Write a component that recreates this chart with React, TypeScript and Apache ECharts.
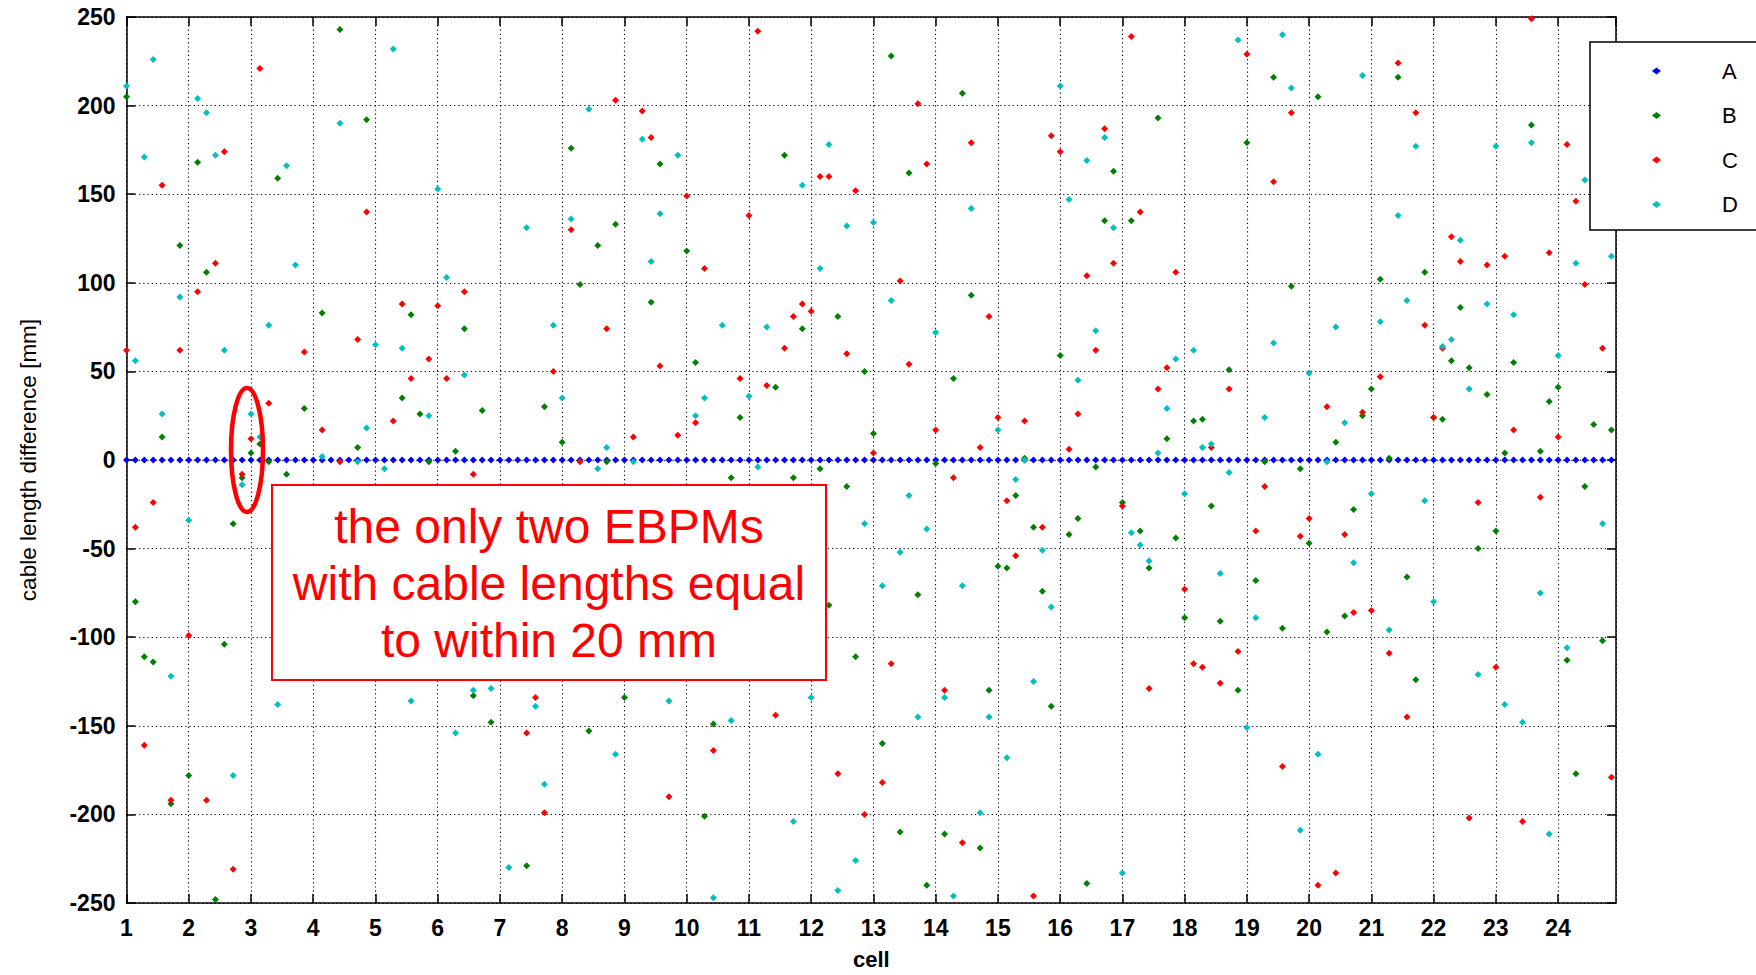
import React, { useEffect, useRef } from "react";
import * as echarts from "echarts";

// Each BPM sits at cell = 1 + index / 7 (7 BPMs per cell, 24 cells)
const bpmsPerCell = 7;
const cellTicks = [1, 24];
const yTicks = [-250, 250, 50];

// Series A: reference (all zero), one value per BPM index 0..167
const seriesA = [
  0,0,0,0,0,0,0, 0,0,0,0,0,0,0, 0,0,0,0,0,0,0, 0,0,0,0,0,0,0,
  0,0,0,0,0,0,0, 0,0,0,0,0,0,0, 0,0,0,0,0,0,0, 0,0,0,0,0,0,0,
  0,0,0,0,0,0,0, 0,0,0,0,0,0,0, 0,0,0,0,0,0,0, 0,0,0,0,0,0,0,
  0,0,0,0,0,0,0, 0,0,0,0,0,0,0, 0,0,0,0,0,0,0, 0,0,0,0,0,0,0,
  0,0,0,0,0,0,0, 0,0,0,0,0,0,0, 0,0,0,0,0,0,0, 0,0,0,0,0,0,0,
  0,0,0,0,0,0,0, 0,0,0,0,0,0,0, 0,0,0,0,0,0,0, 0,0,0,0,0,0,0,
];

// [BPM index, cable length difference in mm]
const seriesB: [number, number][] = [
  [0,205],[1,-80],[2,-111],[3,-114],[4,13],[5,-194],[6,121],[7,-178],[8,168],[9,106],[10,-248],[11,-104],[12,-36],[13,-10],[14,4],[15,9],[16,-1],[17,159],[18,-8],[20,29],[22,83],[24,243],[26,7],[27,192],[31,35],[32,82],[33,26],[34,-1],[37,5],[38,74],[39,-133],[40,28],[41,-148],[45,-229],[47,30],[49,10],[50,176],[51,99],[52,-153],[53,121],[54,-1],[55,133],[56,-134],[59,89],[60,167],[63,118],[64,55],[65,-201],[66,-149],[68,-10],[69,24],[73,41],[74,172],[75,-10],[76,74],[78,-5],[79,-82],[80,81],[81,-15],[82,-111],[83,50],[84,15],[85,-160],[86,228],[87,-210],[88,162],[89,-76],[90,-240],[91,-2],[92,-211],[93,46],[94,207],[95,93],[96,-219],[97,-130],[98,-60],[99,-61],[100,-20],[101,1],[102,-38],[103,-74],[104,-139],[105,59],[106,-42],[107,-33],[108,-239],[109,-4],[110,135],[111,163],[112,-24],[113,135],[114,-40],[115,-61],[116,193],[117,12],[118,-44],[119,-89],[120,22],[121,23],[122,-26],[123,-91],[124,51],[125,-130],[126,179],[127,-68],[128,-1],[129,216],[130,-95],[131,98],[132,-5],[133,-47],[134,205],[135,-97],[136,10],[137,-88],[138,-28],[139,25],[140,40],[141,102],[142,1],[143,216],[144,-66],[145,-124],[146,106],[147,24],[148,23],[149,56],[150,86],[151,52],[152,-50],[153,37],[154,-40],[155,4],[156,55],[158,189],[159,5],[160,33],[161,41],[162,-113],[163,-177],[164,-15],[165,20],[166,-102],[167,17],
];

const seriesC: [number, number][] = [
  [0,62],[1,-38],[2,-161],[3,-24],[4,155],[5,-192],[6,62],[7,-99],[8,95],[9,-192],[10,111],[11,174],[12,-231],[13,-8],[14,12],[15,221],[16,32],[20,61],[22,17],[24,-1],[26,68],[27,140],[30,22],[31,88],[32,46],[34,57],[35,87],[36,46],[38,95],[39,-8],[45,-154],[46,-134],[47,-199],[48,50],[50,130],[51,-1],[54,74],[55,203],[57,13],[58,197],[59,182],[60,53],[61,-190],[62,14],[63,149],[64,21],[65,108],[66,-164],[69,46],[70,138],[71,242],[72,42],[73,-144],[74,63],[75,81],[76,88],[77,84],[78,160],[79,160],[80,-177],[81,60],[82,152],[83,-200],[84,4],[85,-182],[86,-115],[87,101],[88,54],[89,201],[90,167],[91,17],[92,-130],[93,-10],[94,-216],[95,179],[96,7],[97,81],[98,24],[99,-23],[100,-54],[101,22],[102,-246],[103,-38],[104,183],[105,174],[106,6],[107,26],[108,104],[109,62],[110,187],[111,111],[112,-26],[113,239],[114,140],[115,-129],[116,40],[117,52],[118,106],[119,-73],[120,-115],[121,-117],[122,7],[123,-126],[124,40],[125,-108],[126,229],[127,-40],[128,-15],[129,157],[130,-173],[131,196],[132,-43],[133,-33],[134,-240],[135,30],[136,-233],[137,-42],[138,-86],[139,27],[140,-85],[141,47],[142,-109],[143,224],[144,-145],[145,196],[146,76],[147,24],[148,63],[149,126],[150,112],[151,-202],[152,-24],[153,110],[154,-117],[155,115],[156,17],[157,-204],[158,249],[159,-21],[160,117],[161,13],[162,178],[163,146],[164,99],[166,63],[167,-179],
];

const seriesD: [number, number][] = [
  [0,211],[1,56],[2,171],[3,226],[4,26],[5,-122],[6,92],[7,-34],[8,204],[9,196],[10,172],[11,62],[12,-178],[13,-14],[14,26],[15,13],[16,76],[17,-138],[18,166],[19,110],[22,2],[24,190],[26,-1],[27,18],[28,65],[29,-5],[30,232],[31,63],[32,-136],[34,25],[35,153],[36,103],[37,-154],[38,48],[39,-130],[41,-129],[43,-230],[45,131],[46,-139],[47,-183],[48,76],[49,35],[50,136],[52,198],[53,-5],[54,7],[55,-166],[57,-1],[58,181],[59,112],[60,139],[61,-136],[62,172],[64,25],[65,35],[66,-247],[67,76],[68,-147],[70,36],[71,-4],[72,75],[75,-204],[76,155],[77,-134],[78,108],[79,178],[80,-243],[81,132],[82,-226],[83,-36],[84,134],[85,-71],[86,90],[87,-52],[88,-20],[89,-145],[90,-39],[91,72],[92,-134],[93,-246],[94,-71],[95,142],[96,-199],[97,-145],[98,17],[99,-168],[100,-11],[101,0],[102,-125],[103,-51],[104,-83],[105,211],[106,147],[107,45],[108,169],[109,73],[110,182],[111,131],[112,-233],[113,-41],[114,-48],[115,-57],[116,4],[117,29],[118,57],[119,-19],[120,62],[121,7],[122,9],[123,-64],[124,-7],[125,237],[126,-151],[127,-89],[128,24],[129,66],[130,240],[131,210],[132,-209],[133,49],[134,-166],[135,-1],[136,75],[137,21],[138,-58],[139,217],[140,-19],[141,78],[142,-96],[143,138],[144,90],[145,177],[146,-23],[147,-80],[148,64],[149,68],[150,124],[151,40],[152,-121],[153,88],[154,177],[155,-138],[156,82],[157,-148],[158,179],[159,-75],[160,-211],[161,59],[162,-106],[163,111],[164,158],[166,-36],[167,115],
];

const seriesNames = ["A", "B", "C", "D"];
const seriesColors = ["#0000ff", "#008000", "#ff0000", "#00bfbf"];
const annotationText = ["the only two EBPMs", "with cable lengths equal", "to within 20 mm"];
const xName = "cell";
const yName = "cable length difference [mm]";

const FONT = "'Liberation Sans', Arial, Helvetica, sans-serif";

const toCell = (k: number) => cellTicks[0] + k / bpmsPerCell;

export default function App() {
  const ref = useRef<HTMLDivElement>(null);

  useEffect(() => {
    if (!ref.current) return;
    const chart = echarts.init(ref.current, undefined, { renderer: "svg" });

    const dataA = seriesA.map((v, k) => [toCell(k), v]);
    const dataB = seriesB.map(([k, v]) => [toCell(k), v]);
    const dataC = seriesC.map(([k, v]) => [toCell(k), v]);
    const dataD = seriesD.map(([k, v]) => [toCell(k), v]);
    const allData = [dataA, dataB, dataC, dataD];

    const gridLine = { type: [1.2, 3], color: "#000", width: 1.1 };
    const axisLineStyle = { color: "#000", width: 1.5 };

    const option: any = {
      animation: false,
      backgroundColor: "#ffffff",
      grid: { left: 126.5, right: 140, top: 17, bottom: 69, containLabel: false },
      xAxis: [
        {
          type: "value",
          min: cellTicks[0],
          max: 24.93,
          interval: 1,
          position: "bottom",
          name: xName,
          nameLocation: "middle",
          nameGap: 45,
          nameTextStyle: { fontFamily: FONT, fontSize: 22, fontWeight: "bold", color: "#000" },
          axisLine: { show: true, onZero: false, lineStyle: axisLineStyle },
          axisTick: { show: true, inside: true, length: 9, lineStyle: axisLineStyle },
          axisLabel: {
            show: true, margin: 13, fontFamily: FONT, fontSize: 23, fontWeight: "bold", color: "#000",
            showMaxLabel: false,
            formatter: (v: number) => (Number.isInteger(v) ? String(v) : ""),
          },
          splitLine: { show: true, lineStyle: gridLine },
        },
        {
          type: "value",
          min: cellTicks[0],
          max: 24.93,
          interval: 1,
          position: "top",
          axisLine: { show: true, onZero: false, lineStyle: axisLineStyle },
          axisTick: { show: true, inside: true, length: 9, lineStyle: axisLineStyle },
          axisLabel: { show: false },
          splitLine: { show: false },
        },
      ],
      yAxis: [
        {
          type: "value",
          min: yTicks[0],
          max: yTicks[1],
          interval: yTicks[2],
          position: "left",
          name: yName,
          nameLocation: "middle",
          nameGap: 87,
          nameTextStyle: { fontFamily: FONT, fontSize: 22.5, color: "#000" },
          axisLine: { show: true, onZero: false, lineStyle: axisLineStyle },
          axisTick: { show: true, inside: true, length: 9, lineStyle: axisLineStyle },
          axisLabel: { show: true, margin: 11, fontFamily: FONT, fontSize: 23, fontWeight: "bold", color: "#000" },
          splitLine: { show: true, lineStyle: gridLine },
        },
        {
          type: "value",
          min: yTicks[0],
          max: yTicks[1],
          interval: yTicks[2],
          position: "right",
          axisLine: { show: true, onZero: false, lineStyle: axisLineStyle },
          axisTick: { show: true, inside: true, length: 9, lineStyle: axisLineStyle },
          axisLabel: { show: false },
          splitLine: { show: false },
        },
      ],
      legend: {
        data: seriesNames,
        orient: "vertical",
        left: 1647,
        top: 55,
        itemGap: 22.5,
        itemWidth: 9,
        itemHeight: 7,
        icon: "diamond",
        z: 10,
        textStyle: { fontFamily: FONT, fontSize: 22, color: "#000", lineHeight: 22, padding: [0, 0, 0, 56] },
      },
      series: seriesNames.map((name, i) => ({
        name,
        type: "scatter",
        data: allData[i],
        symbol: "diamond",
        symbolSize: 7,
        itemStyle: { color: seriesColors[i], opacity: 1 },
        emphasis: { disabled: true },
        z: 2 + i,
      })),
      graphic: [
        {
          type: "rect",
          z: 9,
          shape: { x: 1590, y: 42, width: 220, height: 188 },
          style: { fill: "#ffffff", stroke: "#000", lineWidth: 1.5 },
        },
        {
          type: "rect",
          z: 20,
          shape: { x: 272, y: 485, width: 554, height: 195 },
          style: { fill: "#ffffff", stroke: "#ff0000", lineWidth: 2 },
        },
        {
          type: "text",
          z: 21,
          style: {
            text: annotationText.join("\n"),
            x: 549,
            y: 583,
            align: "center",
            verticalAlign: "middle",
            fontFamily: FONT,
            fontSize: 48,
            lineHeight: 57,
            fill: "#ff0000",
          },
        },
        {
          type: "ellipse",
          z: 21,
          shape: { cx: 247, cy: 450, rx: 16, ry: 62 },
          style: { fill: "none", stroke: "#ff0000", lineWidth: 4.5 },
        },
      ],
    };

    chart.setOption(option);
    return () => chart.dispose();
  }, []);

  return (
    <div
      ref={ref}
      style={{ position: "absolute", left: 0, top: 0, width: 1756, height: 975, background: "#fff" }}
    />
  );
}
